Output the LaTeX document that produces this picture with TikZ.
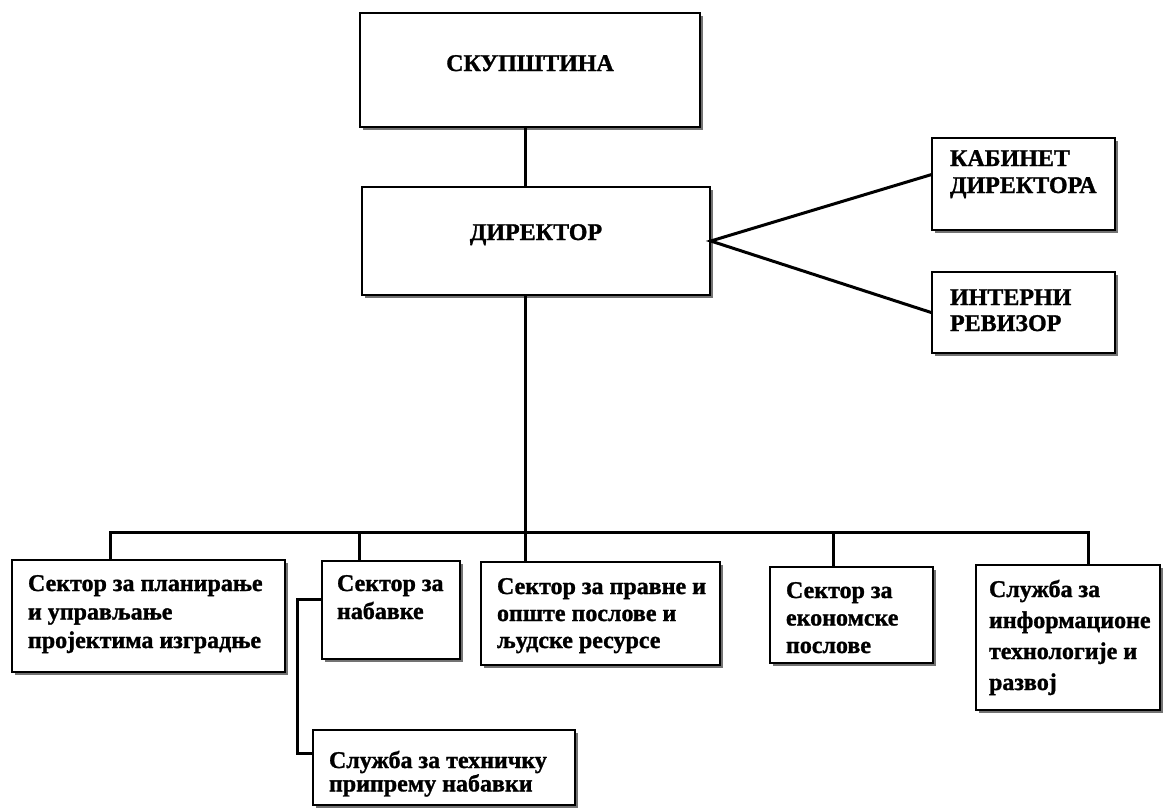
\documentclass[tikz,border=0pt]{standalone}
\usepackage{fontspec}
\setmainfont{Liberation Serif}[BoldFeatures={FakeBold=1.2}]
\usetikzlibrary{shadows,calc}
% #1 width, #2 height, #3 left pad, #4 top offset, #5 baselineskip, #6 lines
\newcommand{\boxtext}[6]{\parbox[c][#2][t]{#1}{\raggedright\setlength\leftskip{#3}\fontsize{24}{#5}\selectfont\bfseries\vspace*{#4}\rule{0pt}{20pt}#6}}
% #1 width, #2 height, #3 top offset, #4 text
\newcommand{\ctrtext}[4]{\parbox[c][#2][t]{#1}{\centering\fontsize{24}{28}\selectfont\bfseries\vspace*{#3}\rule{0pt}{20pt}#4}}
\begin{document}
\begin{tikzpicture}[x=1pt,y=-1pt,
  orgbox/.style={draw=black, line width=1.6pt, fill=white, inner sep=0pt,
    drop shadow={shadow xshift=3pt, shadow yshift=-3pt, fill=black!55, opacity=1}},
  conn/.style={draw=black, line width=3pt}]
\useasboundingbox (0,0) rectangle (1164,807);
\fill[white] (0,0) rectangle (1164,807);

\node[orgbox] (sk) at (530,70) {\ctrtext{340pt}{114pt}{38pt}{СКУПШТИНА}};
\node[orgbox] (dir) at (536,241) {\ctrtext{348pt}{108pt}{33pt}{ДИРЕКТОР}};
\node[orgbox] (kab) at (1023.5,184) {\boxtext{183pt}{92pt}{18pt}{8pt}{27pt}{КАБИНЕТ\\ДИРЕКТОРА}};
\node[orgbox] (int) at (1023.5,312.5) {\boxtext{183pt}{81pt}{18pt}{13pt}{26pt}{ИНТЕРНИ\\РЕВИЗОР}};

\node[orgbox] (b1) at (148.5,616) {\boxtext{273pt}{112pt}{16pt}{11pt}{28.5pt}{Сектор за планирање\\и управљање\\пројектима изградње}};
\node[orgbox] (b2) at (391,610) {\boxtext{138pt}{98pt}{15pt}{10pt}{28pt}{Сектор за\\набавке}};
\node[orgbox] (b3) at (600.5,613.5) {\boxtext{239pt}{103pt}{16pt}{12pt}{27pt}{Сектор за правне и\\опште послове и\\људске ресурсе}};
\node[orgbox] (b4) at (851.5,615) {\boxtext{163pt}{96pt}{16pt}{11pt}{27.5pt}{Сектор за\\економске\\послове}};
\node[orgbox] (b5) at (1068,637.5) {\boxtext{184pt}{145pt}{13pt}{12pt}{31pt}{Служба за\\информационе\\технологије и\\развој}};
\node[orgbox] (b6) at (444,767.5) {\boxtext{262pt}{75pt}{16pt}{18pt}{22pt}{Служба за техничку\\припрему набавки}};

\coordinate (spine) at (525,532);
\coordinate (busL) at (110,532);
\coordinate (busR) at (1088,532);
\coordinate (d2) at (359,532);
\coordinate (d4) at (833,532);
\coordinate (brk) at (297,700);
\coordinate (pk) at ($(kab.north west)!0.4!(kab.south west)$);
\coordinate (p2) at ($(b2.north west)!0.39!(b2.south west)$);
\coordinate (p6) at ($(b6.north west)!0.32!(b6.south west)$);

\draw[conn] (sk.south -| spine) -- (dir.north -| spine);
\draw[conn] (dir.south -| spine) -- (spine |- b3.north);
\draw[conn] (busL |- b1.north) -- (busL) -- (busR) -- (busR |- b5.north);
\draw[conn] (d2) -- (d2 |- b2.north);
\draw[conn] (d4) -- (d4 |- b4.north);
\draw[conn] (pk) -- (dir.east) -- (int.west);
\draw[conn] (p2) -- (p2 -| brk) |- (p6);
\end{tikzpicture}
\end{document}
